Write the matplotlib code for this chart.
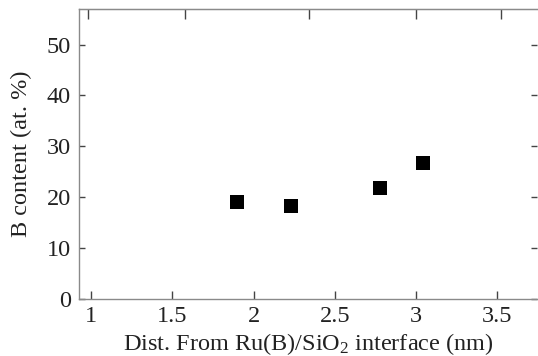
import matplotlib
matplotlib.use("Agg")
import matplotlib.pyplot as plt

dist_nm = [1.90, 2.23, 2.78, 3.045]
b_content = [19.0, 18.2, 21.8, 26.8]
x_ticks = [1, 1.5, 2, 2.5, 3, 3.5]
x_tick_labels = ["1", "1.5", "2", "2.5", "3", "3.5"]
y_ticks = [0, 10, 20, 30, 40, 50]
top_ticks = [0.98, 1.58, 2.34, 3.0, 3.52]

plt.rcParams['font.family'] = ['Liberation Serif', 'DejaVu Serif']
plt.rcParams['mathtext.fontset'] = 'custom'
plt.rcParams['mathtext.rm'] = 'Liberation Serif'

FS = 17.5

fig = plt.figure(figsize=(5.38, 3.56), dpi=100)
ax = fig.add_axes([79/538, 57/356, 1 - 79/538 - 0.001, (299 - 9)/356])

ax.plot(dist_nm, b_content, linestyle='none', marker='s', markersize=10,
        markeredgewidth=0, color='black')

ax.set_xlim(0.926, 3.746)
ax.set_ylim(0, 57)
ax.set_xticks(x_ticks)
ax.set_xticklabels(x_tick_labels)
ax.set_yticks(y_ticks)

grey = '#8a8a8a'
for s in ['left', 'bottom', 'top']:
    ax.spines[s].set_color(grey)
    ax.spines[s].set_linewidth(1.0)
ax.spines['right'].set_visible(False)

ax.tick_params(axis='x', direction='in', length=6, width=1.0, color='#444444',
               labelsize=FS, pad=5, top=False, labelcolor='#222222')
ax.tick_params(axis='y', direction='in', length=4, width=1.0, color='#444444',
               labelsize=FS, pad=6, right=True, labelcolor='#222222')

sec = ax.secondary_xaxis('top')
sec.set_xticks(top_ticks)
sec.tick_params(direction='in', length=7, width=1.0, color='#444444', labeltop=False)
sec.spines['top'].set_color(grey)

ax.set_xlabel(r"Dist. From Ru(B)/SiO$\mathregular{_2}$ interface (nm)", fontsize=FS,
              labelpad=3, color='#222222')
ax.set_ylabel("B content (at. %)", fontsize=FS, labelpad=10, color='#222222')

fig.savefig("out.png", dpi=100)
